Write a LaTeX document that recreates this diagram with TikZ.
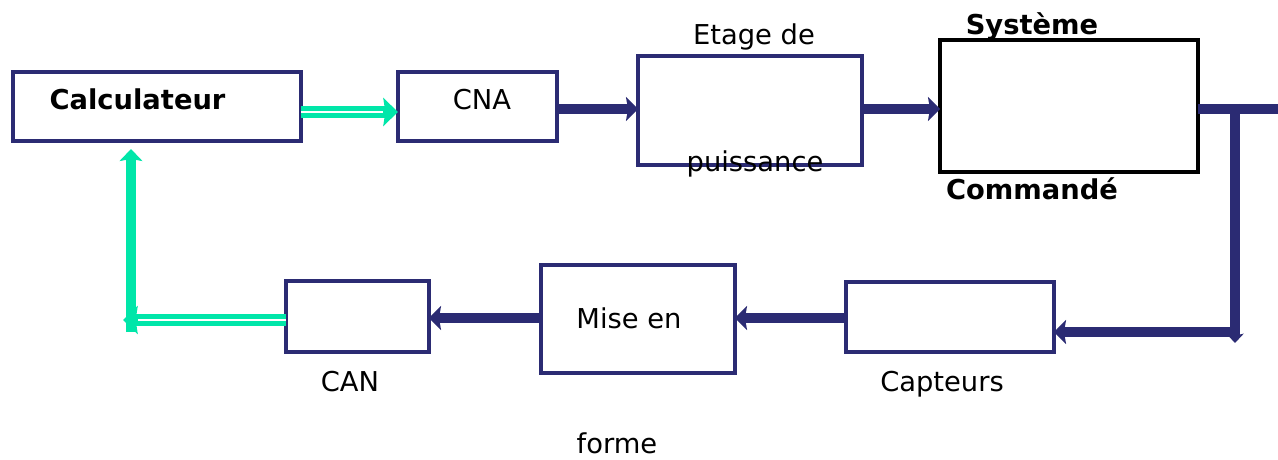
\documentclass[tikz,border=0pt]{standalone}
\usepackage{fontspec}
\setmainfont{DejaVu Sans}
\usetikzlibrary{arrows.meta}
\definecolor{navy}{HTML}{2B2B73}
\definecolor{mint}{HTML}{00E6A9}

\begin{document}
\begin{tikzpicture}[x=0.75pt,y=-0.75pt,
      box/.style={draw=navy,line width=2.5pt,fill=white,inner sep=0pt,outer sep=0pt},
      sysbox/.style={draw=black,line width=3.2pt,fill=white,inner sep=0pt,outer sep=0pt},
      lbl/.style={font=\fontsize{20.5}{24}\selectfont,anchor=base,inner sep=0pt},
      flow/.style={draw=navy,line width=7.5pt,-{Stealth[length=9pt,width=18pt,inset=1.5pt]}},
      greenflow/.style={draw=mint,line width=9pt,-{Stealth[length=11pt,width=21pt,inset=1.5pt]},
                    postaction={draw=white,line width=2pt,-,shorten >=11pt}}]
    \useasboundingbox (0,0) rectangle (1278,460);
    \node[box,minimum width=216pt,minimum height=51.75pt] (calc) at (157,106.5) {};
    \node[box,minimum width=119.25pt,minimum height=51.75pt] (cna) at (477.5,106.5) {};
    \node[box,minimum width=168pt,minimum height=81.75pt] (etage) at (750,110.5) {};
    \node[sysbox,minimum width=193.5pt,minimum height=99pt] (sys) at (1069,106) {};
    \node[box,minimum width=156pt,minimum height=52.5pt] (capt) at (950,317) {};
    \node[box,minimum width=145.5pt,minimum height=81pt] (mise) at (638,319) {};
    \node[box,minimum width=107.25pt,minimum height=53.25pt] (can) at (357.5,316.5) {};
    \node[lbl] (calctxt) at (137.5,109) {\textbf{Calculateur}};
    \node[lbl] (cnatxt) at (482,109) {CNA};
    \node[lbl] (etagetxt) at (754,45) {Etage de};
    \node[lbl] (puisstxt) at (755,171) {puissance};
    \node[lbl] (systxt) at (1032,35) {\textbf{Système}};
    \node[lbl] (cmdtxt) at (1032,199) {\textbf{Commandé}};
    \node[lbl] (misetxt) at (629,328) {Mise en};
    \node[lbl] (formetxt) at (617,453) {forme};
    \node[lbl] (cantxt) at (350,391) {CAN};
    \node[lbl] (capttxt) at (942,391) {Capteurs};
    \coordinate (out) at (1278,109);
    \coordinate (tap) at (1235,104);
    \coordinate (drop) at (1235,343);
    \coordinate (corner) at (1232,332);
    \coordinate (back) at (123,320);
    \coordinate (rise) at (131,332);
    \coordinate (up) at (131,149);
    \draw[greenflow] (calc.east |- 0,112) -- (cna.west |- 0,112);
    \draw[flow] (cna.east |- 0,109) -- (etage.west |- 0,109);
    \draw[flow] (etage.east |- 0,109) -- (sys.west |- 0,109);
    \draw[flow,-] (sys.east |- 0,109) -- (out);
    \draw[flow,-{Stealth[length=7pt,width=13pt,inset=1.5pt]}] (tap) -- (drop);
    \draw[flow] (corner) -- (capt.east |- corner);
    \draw[flow] (capt.west |- 0,318) -- (mise.east |- 0,318);
    \draw[flow] (mise.west |- 0,318) -- (can.east |- 0,318);
    \draw[greenflow] (can.west |- back) -- (back);
    \draw[draw=mint,line width=7pt,-{Stealth[length=9pt,width=17pt,inset=1.5pt]}] (rise) -- (up);
    \end{tikzpicture}
\end{document}
